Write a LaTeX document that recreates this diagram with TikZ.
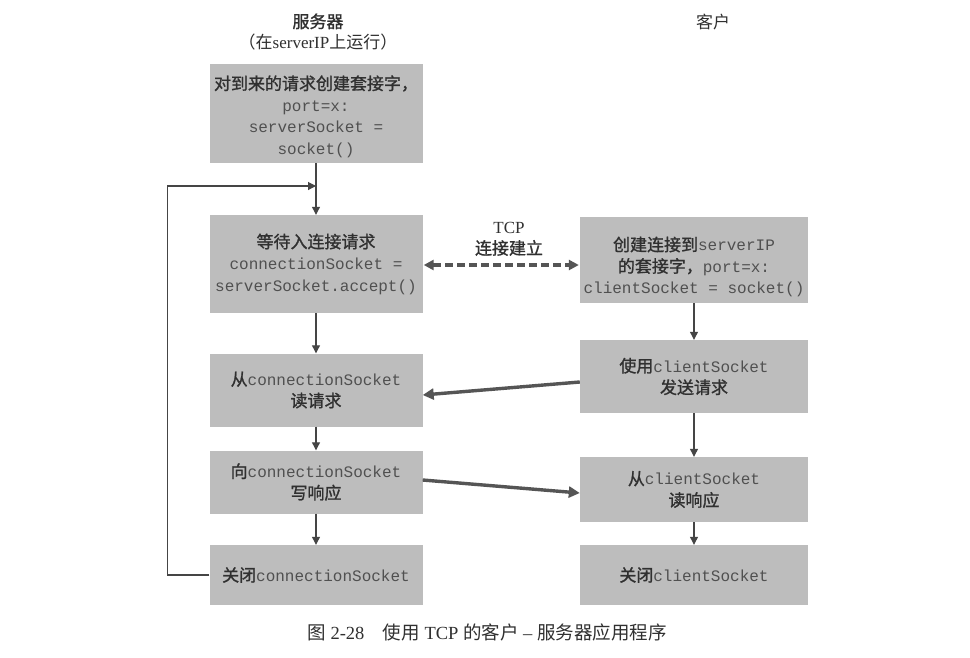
\documentclass[tikz,border=0pt]{standalone}
\usepackage{fontspec}
\setmainfont{Liberation Serif}
\setmonofont{Liberation Mono}
\newfontfamily\cjk{Noto Sans CJK SC}
\newfontfamily\cjkb{Noto Sans CJK SC}[FakeBold=1.2]
\usetikzlibrary{arrows.meta,calc}
\definecolor{boxgray}{HTML}{BDBDBD}
\definecolor{txt}{HTML}{303030}
\definecolor{codetxt}{HTML}{505050}
\definecolor{arr}{HTML}{454545}
\definecolor{msgc}{HTML}{555555}
\newcommand{\zh}[1]{{\cjkb\fontsize{17}{21.5}\selectfont #1}}
\newcommand{\cd}[1]{{\ttfamily\color{codetxt}#1}}
\begin{document}
\begin{tikzpicture}[x=1pt,y=-1pt,
  box/.style={fill=boxgray, draw=none, align=center, inner sep=0pt, text=txt,
    font=\fontsize{16}{21.5}\selectfont},
  sbox/.style={box, minimum width=213pt},
  cbox/.style={box, minimum width=228pt},
  boxtext/.style={align=center, inner sep=0pt, text=txt, font=\fontsize{16}{21.5}\selectfont},
  flow/.style={draw=arr, line width=1.1pt, -{Triangle[length=8pt,width=8pt]}},
  msg/.style={draw=msgc, line width=3.4pt, -{Triangle[length=11pt,width=11pt]}},
  conn/.style={draw=msgc, line width=3.2pt, dash pattern=on 8pt off 4pt,
    {Triangle[length=10pt,width=10pt]}-{Triangle[length=10pt,width=10pt]}},
  lbl/.style={text=txt, align=center, inner sep=0pt, font=\fontsize{17}{21}\selectfont}
]
\useasboundingbox (0,0) rectangle (970,657);
\fill[white] (0,0) rectangle (970,657);

% headers
\node[lbl] (hs) at (318,32) {\zh{服务器}\\{\cjk （在}serverIP{\cjk 上运行）}};
\node[lbl] (hc) at (713,22) {\cjk 客户};

% server boxes
\node[sbox, minimum height=99pt] (s1) at (316,113.5) {};
\node[boxtext] (s1t) at ($(s1.center)+(0,3)$)
  {\zh{对到来的请求创建套接字，}\\\cd{port=x:}\\\cd{serverSocket =}\\\cd{socket()}};
\node[sbox, minimum height=98pt] (s2) at (316,264)
  {\zh{等待入连接请求}\\\cd{connectionSocket =}\\\cd{serverSocket.accept()}};
\node[sbox, minimum height=73pt] (s3) at (316,390)
  {\zh{从}\cd{connectionSocket}\\\zh{读请求}};
\node[sbox, minimum height=63pt] (s4) at (316,482)
  {\zh{向}\cd{connectionSocket}\\\zh{写响应}};
\node[sbox, minimum height=60pt] (s5) at (316,575)
  {\zh{关闭}\cd{connectionSocket}};

% client boxes
\node[cbox, minimum height=86pt] (c1) at (694,260) {};
\node[boxtext] (c1t) at ($(c1.center)+(0,7)$)
  {\zh{创建连接到}\cd{serverIP}\\\zh{的套接字，}\cd{port=x:}\\\cd{clientSocket = socket()}};
\node[cbox, minimum height=73pt] (c2) at (694,376.5)
  {\zh{使用}\cd{clientSocket}\\\zh{发送请求}};
\node[cbox, minimum height=65pt] (c3) at (694,489.5)
  {\zh{从}\cd{clientSocket}\\\zh{读响应}};
\node[cbox, minimum height=60pt] (c4) at (694,575)
  {\zh{关闭}\cd{clientSocket}};

% TCP label
\node[lbl] (tcp) at (509,239) {TCP\\\zh{连接建立}};

% server flow
\coordinate (join) at (316,186);
\draw[flow] (s1.south) -- (s2.north);
\draw[flow] (s2.south) -- (s3.north);
\draw[flow] (s3.south) -- (s4.north);
\draw[flow] (s4.south) -- (s5.north);
\draw[flow] (s5.west) -- ++(-42,0) |- (join);

% client flow
\draw[flow] (c1.south) -- (c2.north);
\draw[flow] (c2.south) -- (c3.north);
\draw[flow] (c3.south) -- (c4.north);

% messages
\draw[conn] ($(s2.east)+(1,1)$) -- ($(c1.west)+(-1,5)$);
\draw[msg] ($(c2.west)+(0,5.5)$) -- ($(s3.east)+(0,5)$);
\draw[msg] ($(s4.east)+(0,-2)$) -- ($(c3.west)+(0,3.5)$);

% caption
\node[lbl, font=\fontsize{18.5}{22}\selectfont] (cap) at (487,632)
  {{\cjk 图} 2-28\quad{\cjk 使用} TCP {\cjk 的客户} – {\cjk 服务器应用程序}};
\end{tikzpicture}
\end{document}
